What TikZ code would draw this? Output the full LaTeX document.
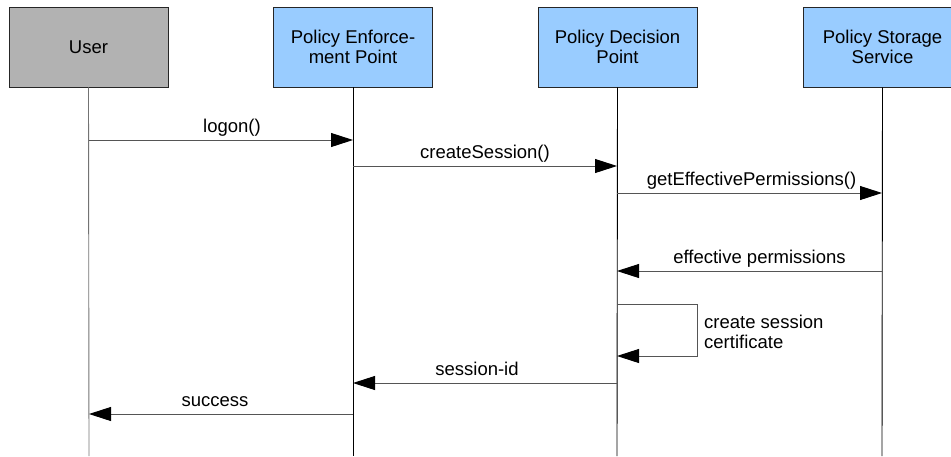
\documentclass[tikz,border=0pt]{standalone}
\usepackage{fontspec}
\setmainfont{Liberation Sans}
\usetikzlibrary{arrows.meta}
\definecolor{boxblue}{HTML}{99CCFF}
\definecolor{boxgray}{HTML}{B2B2B2}
\definecolor{linegray}{HTML}{555555}
\begin{document}
\begin{tikzpicture}[x=1pt,y=-1pt,
  every node/.style={font=\fontsize{18.5}{20.5}\selectfont},
  actor/.style={draw=black!85, line width=0.9pt, minimum width=159pt, minimum height=80pt, align=center, inner sep=0pt},
  life/.style={line width=0.9pt},
  msg/.style={draw=linegray, line width=0.9pt, -{Triangle[length=22pt,width=14pt,black]}},
  lbl/.style={anchor=base, yshift=8pt, inner sep=0pt}
]
\useasboundingbox (0,0) rectangle (951,456);
% actors
\node[actor, fill=boxgray] (user) at (88.5,47) {User};
\node[actor, fill=boxblue] (pep) at (353,47) {Policy Enforce-\\ment Point};
\node[actor, fill=boxblue] (pdp) at (617.5,47) {Policy Decision\\Point};
\node[actor, fill=boxblue] (pss) at (882.5,47) {Policy Storage\\Service};
% lifeline ends
\coordinate (userE) at (89,456);
\coordinate (pepE) at (353,456);
\coordinate (pdpE) at (617,456);
\coordinate (pssE) at (882,456);
\draw[life, draw=black!55] (user.south) -- (userE);
\draw[life] (pep.south) -- (pepE);
\draw[life] (pdp.south) -- (pdpE);
\draw[life] (pss.south) -- (pssE);
% message points
\coordinate (m1a) at (89,140);  \coordinate (m1b) at (353,140);
\coordinate (m2a) at (353,166); \coordinate (m2b) at (617,166);
\coordinate (m3a) at (617,193); \coordinate (m3b) at (882,193);
\coordinate (m4a) at (882,271); \coordinate (m4b) at (617,271);
\coordinate (s1) at (617,304); \coordinate (s2) at (697,304);
\coordinate (s3) at (697,356); \coordinate (s4) at (617,356);
\coordinate (m6a) at (617,383); \coordinate (m6b) at (353,383);
\coordinate (m7a) at (353,414); \coordinate (m7b) at (89,414);
% messages
\draw[msg] (m1a) -- node[lbl, xshift=11pt] (l1) {logon()} (m1b);
\draw[msg] (m2a) -- node[lbl, xshift=0pt] (l2) {createSession()} (m2b);
\draw[msg] (m3a) -- node[lbl, xshift=2pt] (l3) {getEffectivePermissions()} (m3b);
\draw[msg] (m4a) -- node[lbl, xshift=10pt] (l4) {effective permissions} (m4b);
\draw[msg] (s1) -- (s2) -- (s3) -- (s4);
\node[anchor=west, align=left, inner sep=0pt] (l5) at (704,332) {create session\\certificate};
\draw[msg] (m6a) -- node[lbl, xshift=-8pt] (l6) {session-id} (m6b);
\draw[msg] (m7a) -- node[lbl, xshift=-6pt] (l7) {success} (m7b);
\end{tikzpicture}
\end{document}
